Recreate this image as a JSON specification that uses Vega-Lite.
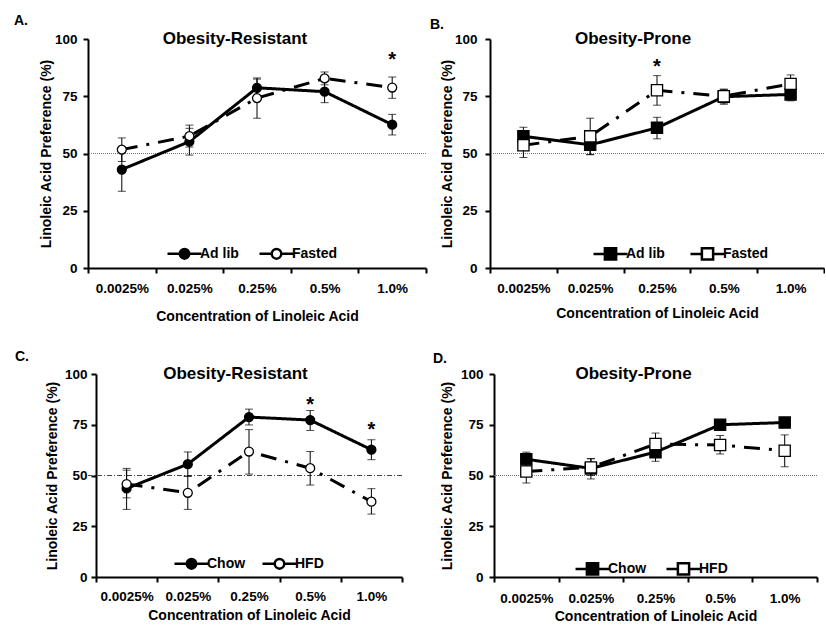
{
  "$schema": "https://vega.github.io/schema/vega-lite/v6.json",
  "background": "white",
  "padding": {"left": 14, "top": 14, "right": 0, "bottom": 0},
  "config": {
    "font": "Liberation Sans",
    "view": {"stroke": null},
    "axis": {"domainColor": "black", "domainWidth": 2, "tickColor": "black", "tickWidth": 2, "tickSize": 5, "labelColor": "black", "labelFont": "Liberation Sans", "labelFontSize": 13.5, "labelFontWeight": "bold", "titleColor": "black", "titleFont": "Liberation Sans", "titleFontSize": 14, "titleFontWeight": "bold", "grid": false},
    "legend": {"labelFont": "Liberation Sans", "labelFontSize": 14, "labelFontWeight": "bold", "labelColor": "black", "symbolSize": 1156, "symbolStrokeWidth": 2.5, "symbolStrokeColor": "black", "labelOffset": -3, "padding": 0, "rowPadding": 0},
    "title": {"font": "Liberation Sans", "fontWeight": "bold", "color": "black", "fontSize": 14}
  },
  "datasets": {
    "A": [
      {"conc": "0.0025%", "series": "Ad lib", "mean": 43, "lo": 33.5, "hi": 52.5},
      {"conc": "0.025%", "series": "Ad lib", "mean": 55.2, "lo": 49.3, "hi": 61},
      {"conc": "0.25%", "series": "Ad lib", "mean": 78.7, "lo": 75, "hi": 82.5},
      {"conc": "0.5%", "series": "Ad lib", "mean": 77, "lo": 72.2, "hi": 81.5},
      {"conc": "1.0%", "series": "Ad lib", "mean": 62.6, "lo": 58.1, "hi": 67.1},
      {"conc": "0.0025%", "series": "Fasted", "mean": 51.7, "lo": 46.5, "hi": 56.8},
      {"conc": "0.025%", "series": "Fasted", "mean": 57.6, "lo": 52.8, "hi": 62.4},
      {"conc": "0.25%", "series": "Fasted", "mean": 74.2, "lo": 65.4, "hi": 83},
      {"conc": "0.5%", "series": "Fasted", "mean": 82.8, "lo": 80, "hi": 85.6},
      {"conc": "1.0%", "series": "Fasted", "mean": 78.8, "lo": 74.1, "hi": 83.4}
    ],
    "B": [
      {"conc": "0.0025%", "series": "Ad lib", "mean": 57.5, "lo": 53.5, "hi": 61.5},
      {"conc": "0.025%", "series": "Ad lib", "mean": 53.8, "lo": 49.5, "hi": 58},
      {"conc": "0.25%", "series": "Ad lib", "mean": 61.2, "lo": 56.4, "hi": 65.8},
      {"conc": "0.5%", "series": "Ad lib", "mean": 74.8, "lo": 71.5, "hi": 78.1},
      {"conc": "1.0%", "series": "Ad lib", "mean": 75.8, "lo": 73, "hi": 78.5},
      {"conc": "0.0025%", "series": "Fasted", "mean": 53.6, "lo": 48.3, "hi": 59},
      {"conc": "0.025%", "series": "Fasted", "mean": 57.5, "lo": 49.5, "hi": 65.4},
      {"conc": "0.25%", "series": "Fasted", "mean": 77.6, "lo": 71.1, "hi": 84},
      {"conc": "0.5%", "series": "Fasted", "mean": 75, "lo": 72, "hi": 78},
      {"conc": "1.0%", "series": "Fasted", "mean": 80.4, "lo": 76.5, "hi": 84.3}
    ],
    "C": [
      {"conc": "0.0025%", "series": "Chow", "mean": 43.6, "lo": 33.3, "hi": 53.5},
      {"conc": "0.025%", "series": "Chow", "mean": 55.6, "lo": 49.6, "hi": 61.6},
      {"conc": "0.25%", "series": "Chow", "mean": 78.8, "lo": 74.9, "hi": 82.7},
      {"conc": "0.5%", "series": "Chow", "mean": 77.3, "lo": 72.2, "hi": 82},
      {"conc": "1.0%", "series": "Chow", "mean": 62.7, "lo": 57.8, "hi": 67.6},
      {"conc": "0.0025%", "series": "HFD", "mean": 45.8, "lo": 39, "hi": 52.6},
      {"conc": "0.025%", "series": "HFD", "mean": 41.5, "lo": 33.3, "hi": 49.7},
      {"conc": "0.25%", "series": "HFD", "mean": 61.8, "lo": 50.7, "hi": 72.6},
      {"conc": "0.5%", "series": "HFD", "mean": 53.6, "lo": 45.3, "hi": 61.8},
      {"conc": "1.0%", "series": "HFD", "mean": 37.1, "lo": 31, "hi": 43.5}
    ],
    "D": [
      {"conc": "0.0025%", "series": "Chow", "mean": 58, "lo": 54.5, "hi": 61.5},
      {"conc": "0.025%", "series": "Chow", "mean": 53.5, "lo": 48.3, "hi": 58.3},
      {"conc": "0.25%", "series": "Chow", "mean": 61.5, "lo": 57, "hi": 66},
      {"conc": "0.5%", "series": "Chow", "mean": 75, "lo": 73, "hi": 77},
      {"conc": "1.0%", "series": "Chow", "mean": 76.1, "lo": 74, "hi": 78},
      {"conc": "0.0025%", "series": "HFD", "mean": 52, "lo": 46.3, "hi": 57.7},
      {"conc": "0.025%", "series": "HFD", "mean": 54, "lo": 50, "hi": 58.3},
      {"conc": "0.25%", "series": "HFD", "mean": 65.5, "lo": 60.1, "hi": 70.9},
      {"conc": "0.5%", "series": "HFD", "mean": 65, "lo": 60.6, "hi": 69.7},
      {"conc": "1.0%", "series": "HFD", "mean": 62.2, "lo": 54.3, "hi": 70}
    ],
    "starsA": [{"conc": "1.0%", "y": 88}],
    "starsB": [{"conc": "0.25%", "y": 85}],
    "starsC": [{"conc": "0.5%", "y": 82}, {"conc": "1.0%", "y": 69.3}]
  },
  "columns": 1,
  "align": "none",
  "spacing": 25,
  "resolve": {"scale": {"fill": "independent", "shape": "independent", "strokeDash": "independent"}, "legend": {"fill": "independent", "shape": "independent", "strokeDash": "independent"}},
  "concat": [
    {
      "hconcat": [
        {
          "width": 338, "height": 229,
          "title": {"text": "A.", "anchor": "start", "frame": "group", "dx": -74, "offset": 2},
          "layer": [
            {"data": {"values": [{"ref": 50}]}, "mark": {"type": "rule", "color": "#777777", "strokeWidth": 1, "strokeDash": [1, 1]},
             "encoding": {"y": {"field": "ref", "type": "quantitative", "title": "Linoleic Acid Preference (%)", "scale": {"domain": [0, 100], "nice": false}, "axis": {"values": [0, 25, 50, 75, 100], "labelPadding": 6, "titlePadding": 0.5}}}},
            {"data": {"name": "A"}, "mark": {"type": "rule", "color": "black", "strokeWidth": 1},
             "encoding": {"x": {"field": "conc", "type": "nominal", "title": "Concentration of Linoleic Acid", "sort": ["0.0025%", "0.025%", "0.25%", "0.5%", "1.0%"], "scale": {"type": "band", "paddingInner": 0, "paddingOuter": 0}, "axis": {"tickBand": "extent", "ticks": true, "labelAngle": 0, "labelPadding": 8, "titlePadding": 15}},
              "y": {"field": "lo", "type": "quantitative", "title": "Linoleic Acid Preference (%)"}, "y2": {"field": "hi"}}},
            {"data": {"name": "A"}, "mark": {"type": "tick", "color": "black", "thickness": 1, "size": 8, "orient": "horizontal"},
             "encoding": {"x": {"field": "conc", "type": "nominal", "title": "Concentration of Linoleic Acid", "sort": ["0.0025%", "0.025%", "0.25%", "0.5%", "1.0%"]}, "y": {"field": "lo", "type": "quantitative", "title": "Linoleic Acid Preference (%)"}}},
            {"data": {"name": "A"}, "mark": {"type": "tick", "color": "black", "thickness": 1, "size": 8, "orient": "horizontal"},
             "encoding": {"x": {"field": "conc", "type": "nominal", "title": "Concentration of Linoleic Acid", "sort": ["0.0025%", "0.025%", "0.25%", "0.5%", "1.0%"]}, "y": {"field": "hi", "type": "quantitative", "title": "Linoleic Acid Preference (%)"}}},
            {"data": {"name": "A"}, "mark": {"type": "line", "color": "black", "strokeWidth": 3},
             "encoding": {"x": {"field": "conc", "type": "nominal", "title": "Concentration of Linoleic Acid", "sort": ["0.0025%", "0.025%", "0.25%", "0.5%", "1.0%"]}, "y": {"field": "mean", "type": "quantitative", "title": "Linoleic Acid Preference (%)"},
              "strokeDash": {"field": "series", "type": "nominal", "scale": {"range": [[1, 0], [16, 9, 3, 9]]}, "legend": null}}},
            {"data": {"name": "A"}, "mark": {"type": "point", "shape": "circle", "filled": true, "size": 80, "stroke": "black", "strokeWidth": 1.3, "opacity": 1},
             "encoding": {"x": {"field": "conc", "type": "nominal", "title": "Concentration of Linoleic Acid", "sort": ["0.0025%", "0.025%", "0.25%", "0.5%", "1.0%"]}, "y": {"field": "mean", "type": "quantitative", "title": "Linoleic Acid Preference (%)"},
              "fill": {"field": "series", "type": "nominal", "scale": {"domain": ["Ad lib", "Fasted"], "range": ["black", "white"]}, "legend": {"title": null, "orient": "none", "legendX": 78, "legendY": 196, "direction": "horizontal", "columnPadding": 15, "symbolStrokeWidth": 2.5, "symbolStrokeColor": "black", "symbolType": "M-1,0H-0.28M0.28,0H1M0.28,0A0.28,0.28,0,1,1,-0.28,0A0.28,0.28,0,1,1,0.28,0Z"}}}},
            {"data": {"name": "starsA"}, "mark": {"type": "text", "fontSize": 20, "fontWeight": "bold", "baseline": "alphabetic", "color": "black"},
             "encoding": {"x": {"field": "conc", "type": "nominal", "title": "Concentration of Linoleic Acid", "sort": ["0.0025%", "0.025%", "0.25%", "0.5%", "1.0%"]}, "y": {"field": "y", "type": "quantitative", "title": "Linoleic Acid Preference (%)"}, "text": {"value": "*"}}},
            {"data": {"values": [{"t": "Obesity-Resistant"}]}, "mark": {"type": "text", "fontSize": 17, "fontWeight": "bold", "baseline": "middle", "color": "black", "dx": -22},
             "encoding": {"x": {"datum": "0.25%", "type": "nominal", "title": "Concentration of Linoleic Acid"}, "y": {"datum": 100, "type": "quantitative", "title": "Linoleic Acid Preference (%)"}, "text": {"field": "t"}}}
          ]
        },
        {
          "width": 334, "height": 229,
          "title": {"text": "B.", "anchor": "start", "frame": "group", "dx": -60, "offset": -2},
          "layer": [
            {"data": {"values": [{"ref": 50}]}, "mark": {"type": "rule", "color": "#777777", "strokeWidth": 1, "strokeDash": [1, 1]},
             "encoding": {"y": {"field": "ref", "type": "quantitative", "title": "Linoleic Acid Preference (%)", "scale": {"domain": [0, 100], "nice": false}, "axis": {"values": [0, 25, 50, 75, 100], "labelPadding": 8, "titlePadding": 0}}}},
            {"data": {"name": "B"}, "mark": {"type": "rule", "color": "black", "strokeWidth": 1},
             "encoding": {"x": {"field": "conc", "type": "nominal", "title": "Concentration of Linoleic Acid", "sort": ["0.0025%", "0.025%", "0.25%", "0.5%", "1.0%"], "scale": {"type": "band", "paddingInner": 0, "paddingOuter": 0}, "axis": {"tickBand": "extent", "ticks": true, "labelAngle": 0, "labelPadding": 8, "titlePadding": 12}},
              "y": {"field": "lo", "type": "quantitative", "title": "Linoleic Acid Preference (%)"}, "y2": {"field": "hi"}}},
            {"data": {"name": "B"}, "mark": {"type": "tick", "color": "black", "thickness": 1, "size": 8, "orient": "horizontal"},
             "encoding": {"x": {"field": "conc", "type": "nominal", "title": "Concentration of Linoleic Acid", "sort": ["0.0025%", "0.025%", "0.25%", "0.5%", "1.0%"]}, "y": {"field": "lo", "type": "quantitative", "title": "Linoleic Acid Preference (%)"}}},
            {"data": {"name": "B"}, "mark": {"type": "tick", "color": "black", "thickness": 1, "size": 8, "orient": "horizontal"},
             "encoding": {"x": {"field": "conc", "type": "nominal", "title": "Concentration of Linoleic Acid", "sort": ["0.0025%", "0.025%", "0.25%", "0.5%", "1.0%"]}, "y": {"field": "hi", "type": "quantitative", "title": "Linoleic Acid Preference (%)"}}},
            {"data": {"name": "B"}, "mark": {"type": "line", "color": "black", "strokeWidth": 3},
             "encoding": {"x": {"field": "conc", "type": "nominal", "title": "Concentration of Linoleic Acid", "sort": ["0.0025%", "0.025%", "0.25%", "0.5%", "1.0%"]}, "y": {"field": "mean", "type": "quantitative", "title": "Linoleic Acid Preference (%)"},
              "strokeDash": {"field": "series", "type": "nominal", "scale": {"range": [[1, 0], [16, 9, 3, 9]]}, "legend": null}}},
            {"data": {"name": "B"}, "mark": {"type": "point", "shape": "square", "filled": true, "size": 125, "stroke": "black", "strokeWidth": 1.3, "opacity": 1},
             "encoding": {"x": {"field": "conc", "type": "nominal", "title": "Concentration of Linoleic Acid", "sort": ["0.0025%", "0.025%", "0.25%", "0.5%", "1.0%"]}, "y": {"field": "mean", "type": "quantitative", "title": "Linoleic Acid Preference (%)"},
              "fill": {"field": "series", "type": "nominal", "scale": {"domain": ["Ad lib", "Fasted"], "range": ["black", "white"]}, "legend": {"title": null, "orient": "none", "legendX": 102, "legendY": 196, "direction": "horizontal", "columnPadding": 20, "symbolStrokeWidth": 2.5, "symbolStrokeColor": "black", "symbolType": "M-1,0H-0.33M0.33,0H1M-0.33,-0.33H0.33V0.33H-0.33Z"}}}},
            {"data": {"name": "starsB"}, "mark": {"type": "text", "fontSize": 20, "fontWeight": "bold", "baseline": "alphabetic", "color": "black"},
             "encoding": {"x": {"field": "conc", "type": "nominal", "title": "Concentration of Linoleic Acid", "sort": ["0.0025%", "0.025%", "0.25%", "0.5%", "1.0%"]}, "y": {"field": "y", "type": "quantitative", "title": "Linoleic Acid Preference (%)"}, "text": {"value": "*"}}},
            {"data": {"values": [{"t": "Obesity-Prone"}]}, "mark": {"type": "text", "fontSize": 17, "fontWeight": "bold", "baseline": "middle", "color": "black", "dx": -24},
             "encoding": {"x": {"datum": "0.25%", "type": "nominal", "title": "Concentration of Linoleic Acid"}, "y": {"datum": 100, "type": "quantitative", "title": "Linoleic Acid Preference (%)"}, "text": {"field": "t"}}}
          ]
        }
      ],
      "spacing": 64,
      "bounds": "flush",
      "resolve": {"scale": {"fill": "independent", "shape": "independent", "strokeDash": "independent"}, "legend": {"fill": "independent", "shape": "independent", "strokeDash": "independent"}}
    },
    {
      "hconcat": [
        {
          "width": 314, "height": 203,
          "title": {"text": "C.", "anchor": "start", "frame": "group", "dx": -73, "offset": 1.5},
          "layer": [
            {"data": {"values": [{"ref": 50}]}, "mark": {"type": "rule", "color": "#444444", "strokeWidth": 1, "strokeDash": [5, 2, 1, 2]},
             "encoding": {"y": {"field": "ref", "type": "quantitative", "title": "Linoleic Acid Preference (%)", "scale": {"domain": [0, 100], "nice": false}, "axis": {"values": [0, 25, 50, 75, 100], "offset": -8, "labelPadding": 4, "titlePadding": 4.5}}}},
            {"data": {"name": "C"}, "mark": {"type": "rule", "color": "black", "strokeWidth": 1},
             "encoding": {"x": {"field": "conc", "type": "nominal", "title": "Concentration of Linoleic Acid", "sort": ["0.0025%", "0.025%", "0.25%", "0.5%", "1.0%"], "scale": {"type": "band", "paddingInner": 0, "paddingOuter": 0, "range": [8, 314]}, "axis": {"tickBand": "extent", "ticks": true, "labelAngle": 0, "labelPadding": 7, "titlePadding": 6}},
              "y": {"field": "lo", "type": "quantitative", "title": "Linoleic Acid Preference (%)"}, "y2": {"field": "hi"}}},
            {"data": {"name": "C"}, "mark": {"type": "tick", "color": "black", "thickness": 1, "size": 8, "orient": "horizontal"},
             "encoding": {"x": {"field": "conc", "type": "nominal", "title": "Concentration of Linoleic Acid", "sort": ["0.0025%", "0.025%", "0.25%", "0.5%", "1.0%"]}, "y": {"field": "lo", "type": "quantitative", "title": "Linoleic Acid Preference (%)"}}},
            {"data": {"name": "C"}, "mark": {"type": "tick", "color": "black", "thickness": 1, "size": 8, "orient": "horizontal"},
             "encoding": {"x": {"field": "conc", "type": "nominal", "title": "Concentration of Linoleic Acid", "sort": ["0.0025%", "0.025%", "0.25%", "0.5%", "1.0%"]}, "y": {"field": "hi", "type": "quantitative", "title": "Linoleic Acid Preference (%)"}}},
            {"data": {"name": "C"}, "mark": {"type": "line", "color": "black", "strokeWidth": 3},
             "encoding": {"x": {"field": "conc", "type": "nominal", "title": "Concentration of Linoleic Acid", "sort": ["0.0025%", "0.025%", "0.25%", "0.5%", "1.0%"]}, "y": {"field": "mean", "type": "quantitative", "title": "Linoleic Acid Preference (%)"},
              "strokeDash": {"field": "series", "type": "nominal", "scale": {"range": [[1, 0], [16, 9, 3, 9]]}, "legend": null}}},
            {"data": {"name": "C"}, "mark": {"type": "point", "shape": "circle", "filled": true, "size": 80, "stroke": "black", "strokeWidth": 1.3, "opacity": 1},
             "encoding": {"x": {"field": "conc", "type": "nominal", "title": "Concentration of Linoleic Acid", "sort": ["0.0025%", "0.025%", "0.25%", "0.5%", "1.0%"]}, "y": {"field": "mean", "type": "quantitative", "title": "Linoleic Acid Preference (%)"},
              "fill": {"field": "series", "type": "nominal", "scale": {"domain": ["Chow", "HFD"], "range": ["black", "white"]}, "legend": {"title": null, "orient": "none", "legendX": 85, "legendY": 171, "direction": "horizontal", "columnPadding": 11, "symbolStrokeWidth": 2.5, "symbolStrokeColor": "black", "symbolType": "M-1,0H-0.28M0.28,0H1M0.28,0A0.28,0.28,0,1,1,-0.28,0A0.28,0.28,0,1,1,0.28,0Z"}}}},
            {"data": {"name": "starsC"}, "mark": {"type": "text", "fontSize": 20, "fontWeight": "bold", "baseline": "alphabetic", "color": "black"},
             "encoding": {"x": {"field": "conc", "type": "nominal", "title": "Concentration of Linoleic Acid", "sort": ["0.0025%", "0.025%", "0.25%", "0.5%", "1.0%"]}, "y": {"field": "y", "type": "quantitative", "title": "Linoleic Acid Preference (%)"}, "text": {"value": "*"}}},
            {"data": {"values": [{"t": "Obesity-Resistant"}]}, "mark": {"type": "text", "fontSize": 17, "fontWeight": "bold", "baseline": "middle", "color": "black", "dx": -13.5},
             "encoding": {"x": {"datum": "0.25%", "type": "nominal", "title": "Concentration of Linoleic Acid"}, "y": {"datum": 100, "type": "quantitative", "title": "Linoleic Acid Preference (%)"}, "text": {"field": "t"}}}
          ]
        },
        {
          "width": 323, "height": 203,
          "title": {"text": "D.", "anchor": "start", "frame": "group", "dx": -61, "offset": -0.5},
          "layer": [
            {"data": {"values": [{"ref": 50}]}, "mark": {"type": "rule", "color": "#777777", "strokeWidth": 1, "strokeDash": [1, 1]},
             "encoding": {"y": {"field": "ref", "type": "quantitative", "title": "Linoleic Acid Preference (%)", "scale": {"domain": [0, 100], "nice": false}, "axis": {"values": [0, 25, 50, 75, 100], "labelPadding": 6, "titlePadding": 5.5}}}},
            {"data": {"name": "D"}, "mark": {"type": "rule", "color": "black", "strokeWidth": 1},
             "encoding": {"x": {"field": "conc", "type": "nominal", "title": "Concentration of Linoleic Acid", "sort": ["0.0025%", "0.025%", "0.25%", "0.5%", "1.0%"], "scale": {"type": "band", "paddingInner": 0, "paddingOuter": 0}, "axis": {"tickBand": "extent", "ticks": true, "labelAngle": 0, "labelPadding": 9, "titlePadding": 4.5}},
              "y": {"field": "lo", "type": "quantitative", "title": "Linoleic Acid Preference (%)"}, "y2": {"field": "hi"}}},
            {"data": {"name": "D"}, "mark": {"type": "tick", "color": "black", "thickness": 1, "size": 8, "orient": "horizontal"},
             "encoding": {"x": {"field": "conc", "type": "nominal", "title": "Concentration of Linoleic Acid", "sort": ["0.0025%", "0.025%", "0.25%", "0.5%", "1.0%"]}, "y": {"field": "lo", "type": "quantitative", "title": "Linoleic Acid Preference (%)"}}},
            {"data": {"name": "D"}, "mark": {"type": "tick", "color": "black", "thickness": 1, "size": 8, "orient": "horizontal"},
             "encoding": {"x": {"field": "conc", "type": "nominal", "title": "Concentration of Linoleic Acid", "sort": ["0.0025%", "0.025%", "0.25%", "0.5%", "1.0%"]}, "y": {"field": "hi", "type": "quantitative", "title": "Linoleic Acid Preference (%)"}}},
            {"data": {"name": "D"}, "mark": {"type": "line", "color": "black", "strokeWidth": 3},
             "encoding": {"x": {"field": "conc", "type": "nominal", "title": "Concentration of Linoleic Acid", "sort": ["0.0025%", "0.025%", "0.25%", "0.5%", "1.0%"]}, "y": {"field": "mean", "type": "quantitative", "title": "Linoleic Acid Preference (%)"},
              "strokeDash": {"field": "series", "type": "nominal", "scale": {"range": [[1, 0], [16, 9, 3, 9]]}, "legend": null}}},
            {"data": {"name": "D"}, "mark": {"type": "point", "shape": "square", "filled": true, "size": 125, "stroke": "black", "strokeWidth": 1.3, "opacity": 1},
             "encoding": {"x": {"field": "conc", "type": "nominal", "title": "Concentration of Linoleic Acid", "sort": ["0.0025%", "0.025%", "0.25%", "0.5%", "1.0%"]}, "y": {"field": "mean", "type": "quantitative", "title": "Linoleic Acid Preference (%)"},
              "fill": {"field": "series", "type": "nominal", "scale": {"domain": ["Chow", "HFD"], "range": ["black", "white"]}, "legend": {"title": null, "orient": "none", "legendX": 80, "legendY": 176, "direction": "horizontal", "columnPadding": 14, "symbolStrokeWidth": 2.5, "symbolStrokeColor": "black", "symbolType": "M-1,0H-0.33M0.33,0H1M-0.33,-0.33H0.33V0.33H-0.33Z"}}}},
            {"data": {"values": [{"t": "Obesity-Prone"}]}, "mark": {"type": "text", "fontSize": 17, "fontWeight": "bold", "baseline": "middle", "color": "black", "dx": -22},
             "encoding": {"x": {"datum": "0.25%", "type": "nominal", "title": "Concentration of Linoleic Acid"}, "y": {"datum": 100, "type": "quantitative", "title": "Linoleic Acid Preference (%)"}, "text": {"field": "t"}}}
          ]
        }
      ],
      "spacing": 92,
      "bounds": "flush",
      "resolve": {"scale": {"fill": "independent", "shape": "independent", "strokeDash": "independent"}, "legend": {"fill": "independent", "shape": "independent", "strokeDash": "independent"}}
    }
  ]
}
